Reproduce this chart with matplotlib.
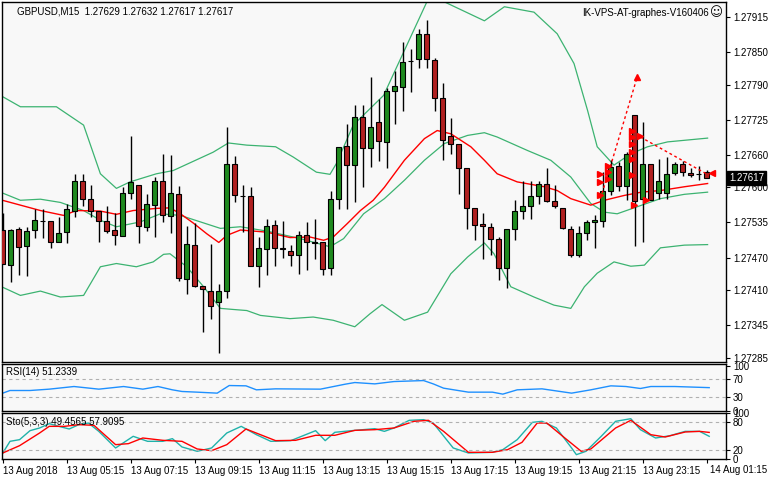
import matplotlib
matplotlib.use('Agg')
import matplotlib.pyplot as plt
import numpy as np

plt.rcParams['font.family'] = ['Liberation Sans', 'DejaVu Sans']

# candle OHLC (prices), one per 15 minutes
opens = [1.27521,1.27457,1.27522,1.27492,1.27521,1.27538,1.27537,1.27498,1.27518,1.27556,
         1.27611,1.27579,1.27557,1.27537,1.27521,1.27509,1.27590,1.27605,1.27527,1.27568,
         1.27611,1.27546,1.27588,1.27431,1.27494,1.27418,1.27409,1.27387,1.27409,1.27644,
         1.27584,1.27583,1.27455,1.27485,1.27531,1.27487,1.27483,1.27475,1.27512,1.27498,
         1.27498,1.27450,1.27579,1.27676,1.27642,1.27730,1.27672,1.27720,1.27684,1.27778,
         1.27786,1.27834,1.27838,1.27884,1.27836,1.27766,1.27694,1.27681,1.27636,1.27561,
         1.27533,1.27527,1.27504,1.27450,1.27522,1.27556,1.27566,1.27583,1.27606,1.27575,
         1.27562,1.27523,1.27474,1.27516,1.27536,1.27538,1.27593,1.27639,1.27602,1.27733,
         1.27578,1.27643,1.27590,1.27590,1.27627,1.27644,1.27627,1.27625,1.27629]
highs = [1.27552,1.27522,1.27527,1.27527,1.27559,1.27559,1.27537,1.27545,1.27570,1.27625,
         1.27625,1.27604,1.27557,1.27565,1.27552,1.27601,1.27694,1.27605,1.27588,1.27619,
         1.27662,1.27660,1.27602,1.27528,1.27534,1.27418,1.27496,1.27421,1.27712,1.27657,
         1.27605,1.27601,1.27508,1.27542,1.27540,1.27538,1.27493,1.27519,1.27536,1.27542,
         1.27498,1.27594,1.27674,1.27718,1.27753,1.27753,1.27804,1.27763,1.27784,1.27815,
         1.27868,1.27855,1.27892,1.27909,1.27839,1.27793,1.27728,1.27681,1.27636,1.27562,
         1.27552,1.27534,1.27508,1.27523,1.27577,1.27612,1.27612,1.27612,1.27635,1.27604,
         1.27562,1.27528,1.27528,1.27539,1.27548,1.27628,1.27651,1.27647,1.27665,1.27733,
         1.27720,1.27643,1.27652,1.27656,1.27647,1.27649,1.27635,1.27640,1.27632]
lows = [1.27459,1.27425,1.27437,1.27435,1.27506,1.27506,1.27487,1.27498,1.27497,1.27545,
        1.27565,1.27545,1.27499,1.27515,1.27493,1.27509,1.27579,1.27497,1.27519,1.27508,
        1.27535,1.27515,1.27427,1.27403,1.27416,1.27332,1.27357,1.27294,1.27396,1.27573,
        1.27517,1.27454,1.27416,1.27437,1.27454,1.27469,1.27454,1.27440,1.27447,1.27468,
        1.27438,1.27437,1.27560,1.27559,1.27573,1.27601,1.27638,1.27649,1.27635,1.27718,
        1.27741,1.27776,1.27820,1.27820,1.27741,1.27651,1.27662,1.27588,1.27522,1.27502,
        1.27468,1.27475,1.27429,1.27414,1.27503,1.27542,1.27542,1.27569,1.27573,1.27562,
        1.27522,1.27471,1.27471,1.27503,1.27488,1.27527,1.27585,1.27593,1.27576,1.27491,
        1.27499,1.27576,1.27578,1.27578,1.27622,1.27620,1.27619,1.27613,1.27617]
closes = [1.27459,1.27521,1.27490,1.27519,1.27540,1.27537,1.27498,1.27516,1.27559,1.27612,
          1.27579,1.27556,1.27538,1.27520,1.27511,1.27590,1.27609,1.27528,1.27570,1.27612,
          1.27548,1.27590,1.27433,1.27496,1.27417,1.27411,1.27380,1.27408,1.27644,1.27585,
          1.27583,1.27455,1.27487,1.27529,1.27488,1.27486,1.27474,1.27512,1.27498,1.27497,
          1.27448,1.27579,1.27674,1.27642,1.27730,1.27672,1.27712,1.27685,1.27778,1.27787,
          1.27831,1.27833,1.27884,1.27838,1.27765,1.27688,1.27681,1.27635,1.27562,1.27531,
          1.27528,1.27505,1.27451,1.27523,1.27556,1.27566,1.27583,1.27606,1.27575,1.27565,
          1.27524,1.27475,1.27516,1.27535,1.27540,1.27593,1.27638,1.27602,1.27662,1.27574,
          1.27643,1.27577,1.27612,1.27624,1.27644,1.27628,1.27623,1.27624,1.27617]

# bollinger upper / middle / lower and red moving average (bar index, price)
bb_up_i = [-0.3,2.2,6.7,10.1,12.2,14.2,15.9,19.2,21.3,26.3,28.2,30.5,34.1,36.3,39.2,40.9,41.7,43.8,47.6,
           53.1,55.2,60.2,62.7,66.4,69.3,71.4,73.1,74.3,76.4,78.5,80.6,83.1,88.1]
bb_up_p = [1.27770,1.27749,1.27749,1.27715,1.27625,1.27598,1.27610,1.27625,1.27631,1.27665,1.27682,1.27678,
           1.27675,1.27656,1.27628,1.27624,1.27644,1.27715,1.27770,1.27946,1.27943,1.27908,1.27934,1.27924,
           1.27884,1.27829,1.27742,1.27675,1.27641,1.27662,1.27675,1.27684,1.27691]
bb_mid_i = [-0.3,2.2,4.7,7.2,10.1,12.2,14.2,17.2,19.7,22.2,24.7,27.2,29.7,33.0,37.2,40.9,42.6,45.1,47.7,
            50.2,52.7,55.2,58.1,60.2,61.8,65.6,68.5,71.0,73.5,75.2,76.8,79.3,82.2,85.2,88.1]
bb_mid_p = [1.27591,1.27576,1.27578,1.27572,1.27557,1.27539,1.27527,1.27536,1.27551,1.27548,1.27536,1.27524,
            1.27527,1.27519,1.27505,1.27490,1.27505,1.27551,1.27579,1.27613,1.27650,1.27681,1.27696,1.27701,
            1.27693,1.27668,1.27650,1.27619,1.27570,1.27554,1.27551,1.27564,1.27579,1.27587,1.27591]
bb_lo_i = [-0.3,2.2,4.7,7.2,10.1,12.2,14.2,16.7,18.8,20.1,20.9,23.0,25.1,27.2,28.8,30.5,32.2,35.9,38.8,41.3,
           44.0,45.9,47.4,50.2,53.1,56.0,58.1,60.2,61.4,63.5,66.4,68.9,71.0,72.7,74.3,76.4,78.5,80.2,82.2,85.2,88.1]
bb_lo_p = [1.27417,1.27400,1.27408,1.27397,1.27400,1.27453,1.27459,1.27453,1.27462,1.27476,1.27477,1.27453,
           1.27416,1.27376,1.27374,1.27372,1.27363,1.27357,1.27360,1.27354,1.27342,1.27366,1.27383,1.27354,
           1.27369,1.27440,1.27471,1.27497,1.27477,1.27416,1.27397,1.27382,1.27376,1.27416,1.27441,1.27462,
           1.27454,1.27456,1.27488,1.27493,1.27494]
ma_i = [-0.3,2.2,4.7,7.6,9.2,12.2,14.2,16.3,19.2,20.9,22.2,23.8,25.5,27.0,28.0,29.7,33.0,35.9,38.4,40.1,41.3,
        43.0,44.7,46.3,47.7,50.2,52.7,54.3,56.0,58.5,60.2,61.8,64.3,67.7,69.3,71.0,73.5,75.2,77.7,79.8,82.2,85.2,88.1]
ma_p = [1.27577,1.27567,1.27557,1.27548,1.27557,1.27556,1.27550,1.27557,1.27561,1.27562,1.27551,1.27534,
        1.27514,1.27498,1.27511,1.27521,1.27517,1.27507,1.27508,1.27502,1.27508,1.27532,1.27557,1.27576,
        1.27600,1.27650,1.27690,1.27705,1.27699,1.27675,1.27650,1.27625,1.27610,1.27601,1.27594,1.27579,
        1.27567,1.27576,1.27585,1.27591,1.27594,1.27601,1.27607]

# red dashed signal lines and arrow marks
sig1_i = [74.7, 76.3, 79.3]
sig1_p = [1.27579, 1.27656, 1.27804]
sig2_i = [79.7, 88.3]
sig2_p = [1.27693, 1.27622]
arrow_i = [74.7, 74.7, 74.7, 75.7, 75.7, 75.7, 78.6, 78.6, 78.6, 78.6, 78.6, 78.6, 79.6, 80.4, 78.9]
arrow_p = [1.27625, 1.27610, 1.27585, 1.27640, 1.27628, 1.27616, 1.27705, 1.27693, 1.27680, 1.27666, 1.27652, 1.27622, 1.27695, 1.27576, 1.27568]

price_ticks = [1.27915, 1.27850, 1.27790, 1.27725, 1.27660, 1.27600, 1.27535, 1.27470, 1.27410, 1.27345, 1.27285]

rsi_i = [0,0.9,3.4,5.8,8.9,12.0,15.1,17.5,19.4,21.2,22.4,24.3,26.8,28.3,30.4,31.7,34.1,39.7,42.8,44.0,46.5,
         48.9,51.4,52.6,53.8,55.1,58.2,61.2,62.5,64.3,67.4,71.1,73.5,76.0,77.9,79.7,81.0,84.0,88.3]
rsi_v = [38.9,44.8,44.8,47.8,53.7,47.8,53.7,47.8,53.7,46.3,42.6,41.1,38.9,55.9,55.2,46.3,48.5,47.8,58.9,62.6,
         59.6,64.8,66.3,67.0,59.6,50.0,41.1,41.1,36.7,46.3,48.5,38.9,46.3,55.2,53.7,49.3,53.7,53.7,51.2]

sto_k_i = [0,0.9,2.1,3.4,4.6,5.8,7.0,8.3,9.5,10.7,12.0,14.1,16.3,18.1,20.0,21.2,22.4,24.3,26.1,28.0,29.8,
           31.7,33.5,36.0,39.1,40.3,41.5,44.0,46.5,47.7,48.9,50.8,52.6,53.8,56.3,58.2,61.2,62.5,64.3,66.2,
           67.4,69.2,71.1,71.7,72.9,74.8,76.6,78.5,79.7,81.6,83.4,85.3,87.1,88.3]
sto_k_v = [12.7,38.3,42.0,61.7,67.6,77.1,71.2,65.4,74.9,78.5,60.2,23.7,49.3,38.3,38.3,44.2,25.9,16.4,23.7,
           56.6,71.2,52.9,38.3,39.8,61.7,39.8,58.1,62.4,66.1,60.2,67.6,84.4,85.9,78.5,23.7,12.7,14.2,20.0,
           42.0,80.0,82.2,67.6,23.7,9.0,16.4,49.3,82.2,88.0,63.9,45.6,50.7,60.2,60.2,49.3]
sto_d_i = [0,2.1,4.6,5.8,7.7,9.5,11.4,14.1,15.7,17.5,20.0,22.4,24.3,26.1,28.0,30.4,34.1,36.6,39.1,41.5,44.0,
           46.5,48.9,51.4,53.2,55.1,58.2,61.2,63.1,64.9,66.8,68.0,69.9,72.3,73.5,76.6,78.5,81.0,82.8,85.3,87.1,88.3]
sto_d_v = [12.7,28.8,56.6,71.2,71.2,74.9,73.4,31.0,33.2,45.6,40.5,38.3,21.5,17.8,31.0,65.4,39.8,40.5,51.5,
           51.5,62.4,63.9,67.6,82.2,84.4,60.2,14.2,14.2,20.0,36.1,78.5,78.5,50.7,16.4,21.5,67.6,84.4,52.9,
           47.8,58.8,60.2,57.9]

time_labels = ['13 Aug 2018', '13 Aug 05:15', '13 Aug 07:15', '13 Aug 09:15', '13 Aug 11:15', '13 Aug 13:15',
               '13 Aug 15:15', '13 Aug 17:15', '13 Aug 19:15', '13 Aug 21:15', '13 Aug 23:15', '14 Aug 01:15']

up_col = '#1f8a1f'
dn_col = '#b02020'
band_col = '#3cb371'
bg = '#f8f8f8'
fs = 7

fig = plt.figure(figsize=(7.68, 4.8), dpi=100, facecolor='white')
ax = fig.add_axes([2/768, 118/480, 724/768, 360/480], facecolor=bg)
ax_rsi = fig.add_axes([2/768, 69/480, 724/768, 47/480], facecolor=bg)
ax_sto = fig.add_axes([2/768, 21/480, 724/768, 46/480], facecolor=bg)

xlim = (-0.1, 90.4)

# candles
idx = np.arange(len(opens))
o = np.array(opens); c = np.array(closes)
ax.vlines(idx, lows, highs, color='black', linewidth=1, zorder=2)
body_lo = np.minimum(o, c)
body_h = np.maximum(np.abs(c - o), 0.000008)
cols = [up_col if cc > oo else dn_col for oo, cc in zip(o, c)]
ax.bar(idx, body_h, bottom=body_lo, width=0.62, color=cols, edgecolor='black', linewidth=0.8, zorder=3)

ax.plot(bb_up_i, bb_up_p, color=band_col, lw=0.9, zorder=1)
ax.plot(bb_mid_i, bb_mid_p, color=band_col, lw=0.9, zorder=1)
ax.plot(bb_lo_i, bb_lo_p, color=band_col, lw=0.9, zorder=1)
ax.plot(ma_i, ma_p, color='red', lw=1, zorder=1)

ax.plot(sig1_i, sig1_p, color='red', lw=1, ls=(0, (2, 2)), zorder=4)
ax.plot(sig2_i, sig2_p, color='red', lw=1, ls=(0, (2, 2)), zorder=4)
ax.plot(sig1_i[-1], sig1_p[-1], marker='^', color='red', ms=5, zorder=5)
ax.plot(arrow_i, arrow_p, linestyle='none', marker='>', color='red', ms=4, zorder=5)
ax.plot([88.6], [1.27627], marker='<', color='red', ms=5, zorder=5)

ax.set_xlim(*xlim)
ax.set_ylim(1.272768, 1.279428)
ax.yaxis.tick_right()
ax.set_yticks(price_ticks)
ax.set_yticklabels(['%.5f' % t for t in price_ticks], fontsize=fs)
ax.set_xticks([])
ax.tick_params(axis='y', length=3, pad=2)

# current price tag
ax.text(1.004, 1.27617, '1.27617', transform=ax.get_yaxis_transform(), fontsize=fs, color='white',
        va='center', ha='left', bbox=dict(facecolor='black', edgecolor='black', pad=1.2), clip_on=False, zorder=10)

ax.text(0.021, 0.975, 'GBPUSD,M15  1.27629 1.27632 1.27617 1.27617', transform=ax.transAxes,
        fontsize=fs, va='center', ha='left')
ax.text(0.976, 0.97, 'IK-VPS-AT-graphes-V160406', transform=ax.transAxes,
        fontsize=fs, va='center', ha='right')
ax.text(0.978, 0.97, '\u263a', transform=ax.transAxes, family='DejaVu Sans',
        fontsize=9, va='center', ha='left')

# RSI panel
ax_rsi.plot(rsi_i, rsi_v, color='#1e90ff', lw=1)
for lv in (70, 30):
    ax_rsi.axhline(lv, color='#b0b0b0', lw=0.8, ls=(0, (3, 3)))
ax_rsi.set_xlim(*xlim)
ax_rsi.set_ylim(-1, 104)
ax_rsi.yaxis.tick_right()
ax_rsi.set_yticks([100, 70, 30, 0])
ax_rsi.set_yticklabels(['100', '70', '30', '0'], fontsize=fs)
ax_rsi.tick_params(axis='y', length=3, pad=2)
ax_rsi.set_xticks([])
ax_rsi.text(0.005, 0.82, 'RSI(14) 51.2339', transform=ax_rsi.transAxes, fontsize=fs, va='center')

# Stochastic panel
ax_sto.plot(sto_k_i, sto_k_v, color='#20b2aa', lw=1)
ax_sto.plot(sto_d_i, sto_d_v, color='red', lw=1)
for lv in (80, 20):
    ax_sto.axhline(lv, color='#b0b0b0', lw=0.8, ls=(0, (3, 3)))
ax_sto.set_xlim(*xlim)
ax_sto.set_ylim(-0.5, 100.5)
ax_sto.yaxis.tick_right()
ax_sto.set_yticks([100, 80, 20, 0])
ax_sto.set_yticklabels(['100', '80', '20', '0'], fontsize=fs)
ax_sto.tick_params(axis='y', length=3, pad=2)
ax_sto.text(0.005, 0.8, 'Sto(5,3,3) 49.4565 57.9095', transform=ax_sto.transAxes, fontsize=fs, va='center')

tick_pos = [8 * k for k in range(len(time_labels))]
ax_sto.set_xticks(tick_pos)
ax_sto.set_xticklabels([])
ax_sto.tick_params(axis='x', length=3, direction='out')
for k, lab in enumerate(time_labels[:-1]):
    ax_sto.text(tick_pos[k], -0.16, lab, transform=ax_sto.get_xaxis_transform(), fontsize=fs,
                ha='left', va='top', clip_on=False)
fig.text(0.999, 10/480, time_labels[-1], fontsize=fs, ha='right', va='center')

for a in (ax, ax_rsi, ax_sto):
    for s in a.spines.values():
        s.set_linewidth(1)

fig.savefig('out.png', dpi=100, facecolor='white')
